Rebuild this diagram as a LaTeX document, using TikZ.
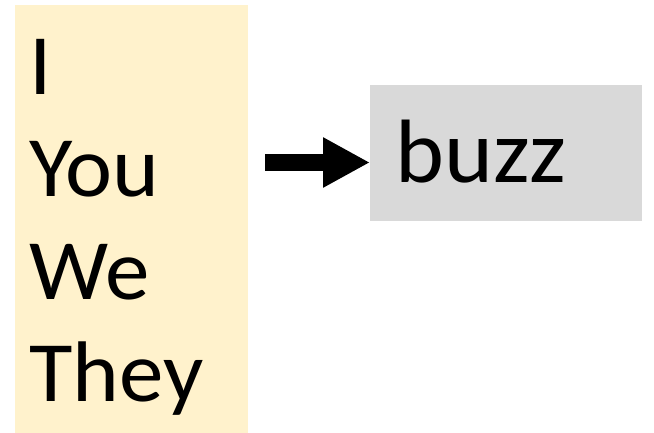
\documentclass[tikz,border=0pt]{standalone}
\usepackage{fontspec}
\setmainfont{Carlito}
\usetikzlibrary{arrows.meta}
\definecolor{pale}{HTML}{FFF2CC}
\definecolor{lgray}{HTML}{D9D9D9}
\newcommand{\wide}[1]{\scalebox{1.035}[1]{#1}}
\begin{document}
\begin{tikzpicture}[x=1pt,y=-1pt,
  word/.style={anchor=base west, inner sep=0pt, font=\fontsize{86}{100}\selectfont},
  bigword/.style={anchor=base west, inner sep=0pt, font=\fontsize{90}{100}\selectfont},
  panel/.style={anchor=north west, inner sep=0pt, draw=none}]
\useasboundingbox (0,0) rectangle (654,433);
\node[panel, fill=pale, minimum width=233pt, minimum height=428pt] (list) at (15,4.5) {};
\node[panel, fill=lgray, minimum width=271.6pt, minimum height=135.7pt] (verb) at (370,85) {};
\node[word] (w1) at (29,94.3) {\wide{I}};
\node[word] (w2) at (29,196.7) {\wide{You}};
\node[word] (w3) at (29,299) {\wide{We}};
\node[word] (w4) at (29,401) {\wide{They}};
\node[bigword] (w5) at (395,182.7) {\wide{buzz}};
\coordinate (as) at (265,162.5);
\coordinate (ae) at (370,162.5);
\draw[line width=17pt, -{Triangle[length=47pt,width=47pt]}] (as) -- (ae);
\end{tikzpicture}
\end{document}
